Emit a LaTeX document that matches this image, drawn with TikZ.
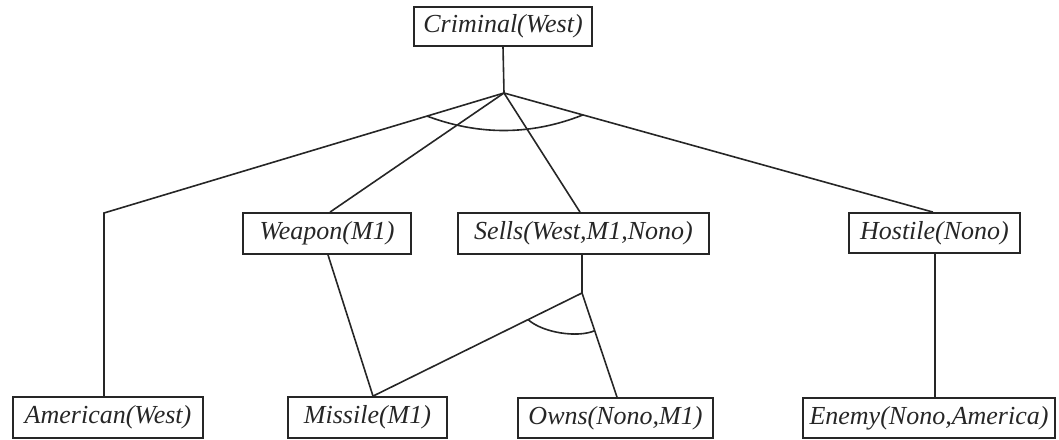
\documentclass[tikz,border=0pt]{standalone}
\usepackage{fontspec}
\setmainfont{Liberation Serif}
\usetikzlibrary{calc}
\begin{document}
\begin{tikzpicture}[x=0.5pt,y=-0.5pt,
  box/.style={draw=black!85,line width=0.9pt,inner sep=0pt,
    font=\fontsize{13}{15}\selectfont\itshape,text=black!85},
  conn/.style={line width=0.8pt,black!85}]
\useasboundingbox (0,0) rectangle (1059,439);
% nodes
\node[box,minimum width=89pt,minimum height=19.5pt] (crim) at (503,26.5) {Criminal(West)};
\node[box,minimum width=84pt,minimum height=20.5pt] (weap) at (327,233.5) {Weapon(M1)};
\node[box,minimum width=125.5pt,minimum height=20.5pt] (sells) at (583.5,233.5) {Sells(West,M1,Nono)};
\node[box,minimum width=85.5pt,minimum height=20pt] (host) at (934.5,233) {Hostile(Nono)};
\node[box,minimum width=95pt,minimum height=20.5pt] (amer) at (108,417.5) {American(West)};
\node[box,minimum width=79.5pt,minimum height=20.5pt] (miss) at (367.5,417.5) {Missile(M1)};
\node[box,minimum width=97.5pt,minimum height=20pt] (owns) at (615.5,418) {Owns(Nono,M1)};
\node[box,minimum width=126pt,minimum height=20pt] (enemy) at (929,418) {Enemy(Nono,America)};
% junction points
\coordinate (apex) at (504,93);
\coordinate (corner) at (104,213);
\coordinate (junc) at (582,293);
% connectors
\draw[conn] (crim.south) -- (apex);
\draw[conn] (apex) -- (corner) -- (corner |- amer.north);
\draw[conn] (apex) -- ([xshift=1.5pt]weap.north);
\draw[conn] (apex) -- ([xshift=-1.75pt]sells.north);
\draw[conn] (apex) -- ([xshift=-0.75pt]host.north);
\draw[conn] ([xshift=0.5pt]weap.south) -- ([xshift=2.75pt]miss.north);
\draw[conn] (junc |- sells.south) -- (junc);
\draw[conn] (junc) -- ([xshift=2.75pt]miss.north);
\draw[conn] (junc) -- ([xshift=0.75pt]owns.north);
\draw[conn] ([xshift=0.25pt]host.south) -- ([xshift=0.25pt]host.south |- enemy.north);
% and-arcs
\coordinate (a1) at ($(apex)!0.1925!(corner)$);
\coordinate (a2) at ($(apex)!0.184!([xshift=-0.75pt]host.north)$);
\draw[conn] (a1) .. controls (479,135.5) and (531,135.5) .. (a2);
\coordinate (b1) at ($(junc)!0.258!([xshift=2.75pt]miss.north)$);
\coordinate (b2) at ($(junc)!0.362!([xshift=0.75pt]owns.north)$);
\draw[conn] (b1) .. controls (543,333) and (578,338) .. (b2);
\end{tikzpicture}
\end{document}
